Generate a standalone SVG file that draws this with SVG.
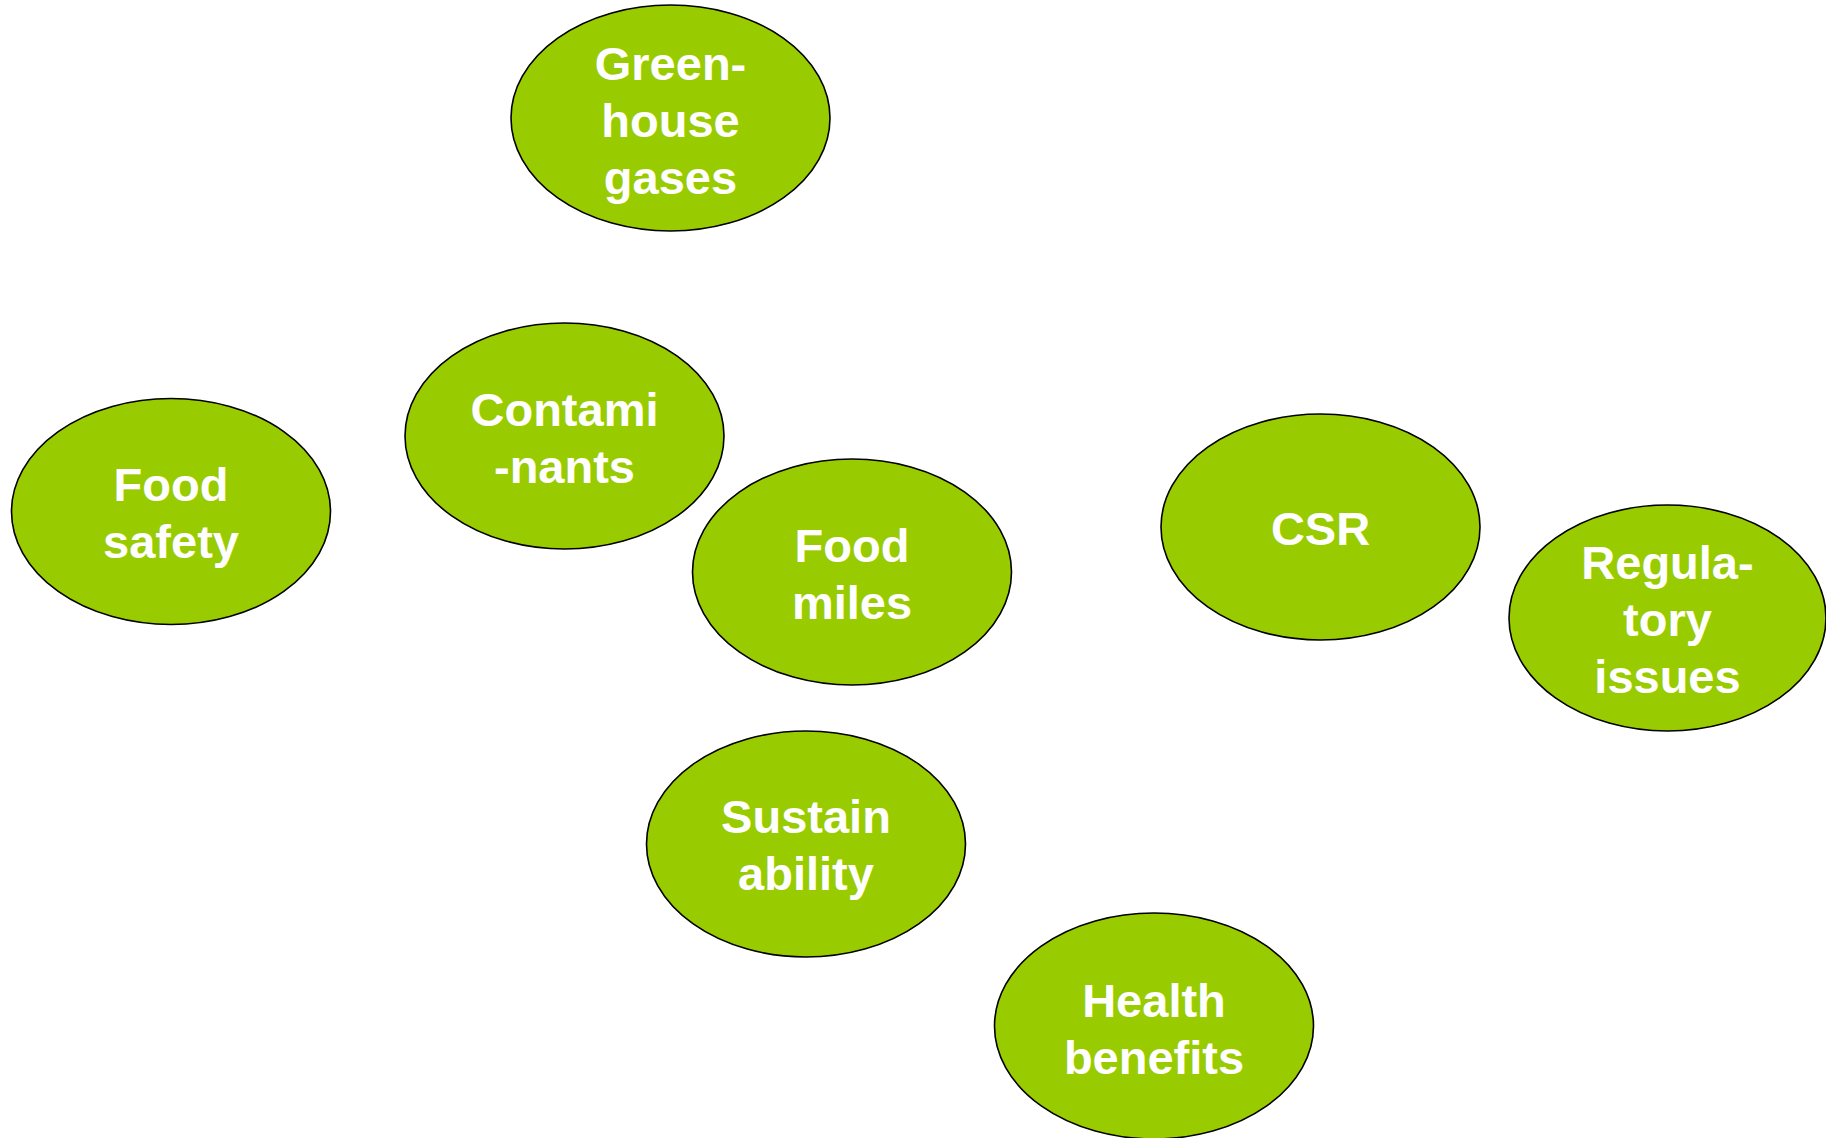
<svg xmlns="http://www.w3.org/2000/svg" width="1826" height="1138" viewBox="0 0 1826 1138">
  <style>
    .bubble { fill: #99CC00; stroke: #000000; stroke-width: 1.6; }
    .label { fill: #FFFFFF; font-family: "Liberation Sans", Arial, sans-serif; font-weight: bold; font-size: 47px; text-anchor: middle; }
  </style>
  <rect width="1826" height="1138" fill="#FFFFFF"/>
  <g id="connectors"></g>
  <g id="node-greenhouse">
    <ellipse class="bubble" cx="670.5" cy="118" rx="159.5" ry="113"/>
    <text class="label" x="670.5" y="80">Green-</text>
    <text class="label" x="670.5" y="137">house</text>
    <text class="label" x="670.5" y="194">gases</text>
  </g>
  <g id="node-contaminants">
    <ellipse class="bubble" cx="564.5" cy="436" rx="159.5" ry="113"/>
    <text class="label" x="564.5" y="426">Contami</text>
    <text class="label" x="564.5" y="483">-nants</text>
  </g>
  <g id="node-food-safety">
    <ellipse class="bubble" cx="171" cy="511.5" rx="159.5" ry="113"/>
    <text class="label" x="171" y="501">Food</text>
    <text class="label" x="171" y="558">safety</text>
  </g>
  <g id="node-food-miles">
    <ellipse class="bubble" cx="852" cy="572" rx="159.5" ry="113"/>
    <text class="label" x="852" y="562">Food</text>
    <text class="label" x="852" y="619">miles</text>
  </g>
  <g id="node-csr">
    <ellipse class="bubble" cx="1320.5" cy="527" rx="159.5" ry="113"/>
    <text class="label" x="1320.5" y="545">CSR</text>
  </g>
  <g id="node-regulatory">
    <ellipse class="bubble" cx="1667.5" cy="618" rx="158.5" ry="113"/>
    <text class="label" x="1667.5" y="579">Regula-</text>
    <text class="label" x="1667.5" y="636">tory</text>
    <text class="label" x="1667.5" y="693">issues</text>
  </g>
  <g id="node-sustainability">
    <ellipse class="bubble" cx="806" cy="844" rx="159.5" ry="113"/>
    <text class="label" x="806" y="833">Sustain</text>
    <text class="label" x="806" y="890">ability</text>
  </g>
  <g id="node-health">
    <ellipse class="bubble" cx="1154" cy="1026" rx="159.5" ry="113"/>
    <text class="label" x="1154" y="1017">Health</text>
    <text class="label" x="1154" y="1074">benefits</text>
  </g>
</svg>
